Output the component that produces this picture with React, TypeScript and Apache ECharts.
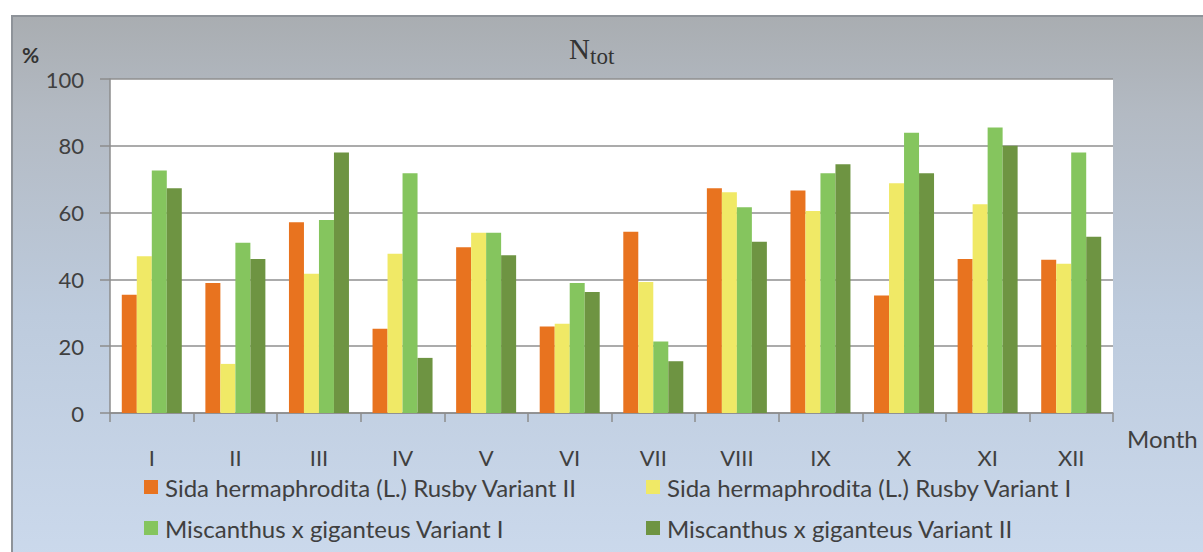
import React, { useEffect, useRef } from "react";
import * as echarts from "echarts";

const months = ["I", "II", "III", "IV", "V", "VI", "VII", "VIII", "IX", "X", "XI", "XII"];
const seriesNames = [
  "Sida hermaphrodita (L.) Rusby Variant II",
  "Sida hermaphrodita (L.) Rusby Variant I",
  "Miscanthus x giganteus Variant I",
  "Miscanthus x giganteus Variant II",
];
const sidaV2 = [35.4, 38.9, 57.1, 25.2, 49.6, 25.9, 54.3, 67.3, 66.6, 35.2, 46.1, 45.9];
const sidaV1 = [46.9, 14.7, 41.7, 47.7, 54.0, 26.7, 39.2, 66.1, 60.5, 68.8, 62.5, 44.7];
const miscV1 = [72.6, 51.0, 57.8, 71.8, 54.0, 38.9, 21.4, 61.6, 71.8, 83.9, 85.5, 78.0];
const miscV2 = [67.3, 46.1, 78.0, 16.5, 47.2, 36.2, 15.5, 51.3, 74.5, 71.8, 80.0, 52.8];
const colors = ["#E8731F", "#F0E966", "#85C55E", "#6E9442"];
const yTicks = { min: 0, max: 100, interval: 20 };

const FONT = "Lato, 'Open Sans', sans-serif";

const legendPos = [
  { left: 139, top: 470 },
  { left: 641, top: 470 },
  { left: 139, top: 511 },
  { left: 641, top: 511 },
];

export default function App() {
  const ref = useRef<HTMLDivElement>(null);
  useEffect(() => {
    if (!ref.current) return;
    const chart = echarts.init(ref.current, undefined, { renderer: "svg" });
    const data = [sidaV2, sidaV1, miscV1, miscV2];
    chart.setOption({
      animation: false,
      backgroundColor: "#ffffff",
      graphic: [
        {
          type: "rect",
          z: -10,
          silent: true,
          shape: { x: 12, y: 16, width: 1200, height: 545 },
          style: {
            fill: new echarts.graphic.LinearGradient(0, 0, 0, 1, [
              { offset: 0, color: "#A9ADB1" },
              { offset: 0.18, color: "#B3BAC3" },
              { offset: 0.55, color: "#BDCBDD" },
              { offset: 1, color: "#CBD9EC" },
            ]),
            stroke: "#8E9399",
            lineWidth: 2,
          },
        },
        {
          type: "text",
          x: 569,
          y: 34,
          style: { text: "N", font: "29px 'Liberation Serif', 'DejaVu Serif', serif", fill: "#333333" },
        },
        {
          type: "text",
          x: 590,
          y: 45,
          style: { text: "tot", font: "23px 'Liberation Serif', 'DejaVu Serif', serif", fill: "#333333" },
        },
        {
          type: "text",
          x: 22,
          y: 44,
          style: { text: "%", font: "bold 21px " + FONT, fill: "#333333" },
        },
        {
          type: "text",
          x: 1127,
          y: 426,
          style: { text: "Month", font: "24px " + FONT, fill: "#404040" },
        },
      ],
      grid: {
        left: 110,
        right: 90,
        top: 79,
        bottom: 139,
        show: true,
        backgroundColor: "#ffffff",
        borderWidth: 0,
      },
      legend: seriesNames.map((n, i) => ({
        left: legendPos[i].left,
        top: legendPos[i].top,
        itemWidth: 14,
        itemHeight: 14,
        icon: "rect",
        data: [n],
        textStyle: { fontFamily: FONT, fontSize: 24, color: "#404040", padding: [0, 0, 0, 2] },
      })),
      xAxis: {
        type: "category",
        data: months,
        axisLine: { lineStyle: { color: "#8C8C8C", width: 1.5 } },
        axisTick: { show: true, length: 9, lineStyle: { color: "#8C8C8C", width: 1.5 } },
        axisLabel: { fontFamily: FONT, fontSize: 22, color: "#404040", margin: 33 },
        splitLine: { show: false },
      },
      yAxis: {
        type: "value",
        min: yTicks.min,
        max: yTicks.max,
        interval: yTicks.interval,
        axisLine: { show: true, lineStyle: { color: "#8C8C8C", width: 1.5 } },
        axisTick: { show: true, length: 10, lineStyle: { color: "#8C8C8C", width: 1.5 } },
        axisLabel: { fontFamily: FONT, fontSize: 22, color: "#404040", margin: 26 },
        splitLine: { show: true, lineStyle: { color: "#8F8F8F", width: 1.5 } },
      },
      series: data.map((d, i) => ({
        name: seriesNames[i],
        type: "bar",
        data: d,
        barWidth: 15,
        barGap: "0%",
        itemStyle: { color: colors[i] },
      })),
    });
    return () => chart.dispose();
  }, []);
  return (
    <div
      ref={ref}
      style={{ position: "fixed", left: 0, top: 0, width: 1203, height: 552 }}
    />
  );
}
